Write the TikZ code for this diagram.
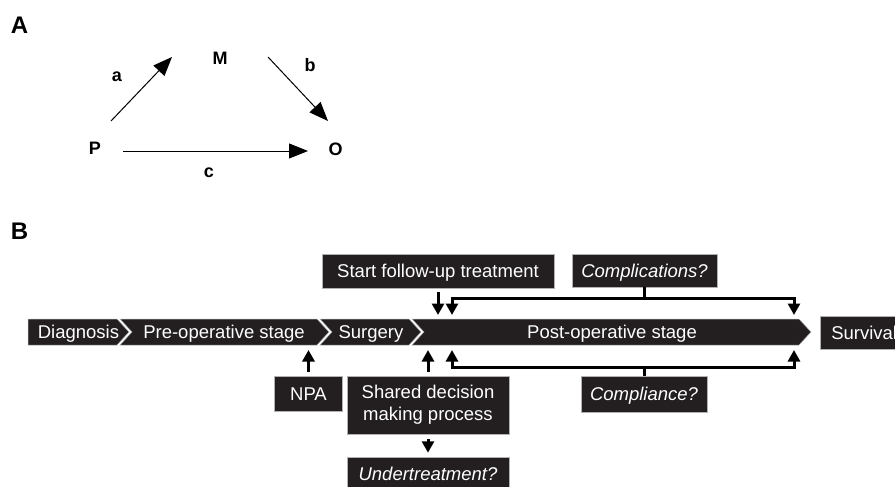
\documentclass[tikz,border=0pt]{standalone}
\usepackage{fontspec}
\setmainfont{Liberation Sans}
\usetikzlibrary{arrows.meta}
\definecolor{boxfill}{HTML}{231F20}
\begin{document}
\begin{tikzpicture}[x=1pt,y=-1pt,
  seg/.style={fill=boxfill, draw=gray!60, line width=0.5pt},
  box/.style={fill=boxfill, draw=gray!60, line width=0.5pt, text=white,
    font=\fontsize{18.5}{22}\selectfont, inner sep=0pt, text height=16pt, text depth=3pt},
  segtext/.style={text=white, font=\fontsize{18.5}{22}\selectfont, inner sep=0pt, anchor=base},
  barrow/.style={line width=3pt, -{Triangle[length=11.5pt,width=12pt]}},
  bline/.style={line width=3pt},
  bboth/.style={line width=3pt, line join=miter, {Triangle[length=11.5pt,width=12pt]}-{Triangle[length=11.5pt,width=12pt]}},
  aarrow/.style={line width=1pt, -{Triangle[length=19pt,width=15pt]}},
  panel/.style={font=\fontsize{24}{28}\selectfont\bfseries, inner sep=0pt},
  var/.style={font=\fontsize{18}{20}\selectfont\bfseries, inner sep=0pt}
]
\useasboundingbox (0,0) rectangle (895,487);
\clip (0,0) rectangle (895,487);

% ---------- Panel A ----------
\node[panel] (lblA) at (19.5,25) {A};
\node[var] (M) at (220,58) {M};
\node[var] (P) at (95,148.5) {P};
\node[var] (O) at (335.5,149) {O};
\node[var] (la) at (117,76.5) {a};
\node[var] (lb) at (310,65) {b};
\node[var] (lc) at (209,172.5) {c};
\coordinate (a1) at (111,121);
\coordinate (a2) at (172,57);
\coordinate (b1) at (268,57);
\coordinate (b2) at (328,121);
\coordinate (c1) at (123,151);
\coordinate (c2) at (308,151);
\draw[aarrow] (a1) -- (a2);
\draw[aarrow] (b1) -- (b2);
\draw[aarrow] (c1) -- (c2);

% ---------- Panel B ----------
\node[panel] (lblB) at (19.5,231.5) {B};

% chevron band
\draw[seg] (28,319) -- (117,319) -- (129,332) -- (117,345) -- (28,345) -- cycle;
\draw[seg] (120,319) -- (317,319) -- (329,332) -- (317,345) -- (120,345) -- (132,332) -- cycle;
\draw[seg] (320,319) -- (409,319) -- (421,332) -- (409,345) -- (320,345) -- (332,332) -- cycle;
\draw[seg] (412,319) -- (799,319) -- (811,332) -- (799,345) -- (412,345) -- (424,332) -- cycle;
\node[segtext] (tdiag) at (78.5,338) {Diagnosis};
\node[segtext] (tpre) at (224,338) {Pre-operative stage};
\node[segtext] (tsurg) at (371,338) {Surgery};
\node[segtext] (tpost) at (612,338) {Post-operative stage};
\node[box, anchor=west, minimum height=33pt, inner xsep=11pt] (surv) at (820,332.5) {Survival};

% boxes
\node[box, minimum width=232pt, minimum height=34pt] (start) at (438,271) {Start follow-up treatment};
\node[box, minimum width=145pt, minimum height=33pt, font=\fontsize{18.5}{22}\selectfont\itshape] (compl) at (644.5,270.5) {Complications?};
\node[box, minimum width=68pt, minimum height=35pt] (npa) at (308.5,393.5) {NPA};
\node[fill=boxfill, draw=gray!60, line width=0.5pt, text=white, inner sep=0pt,
  font=\fontsize{18.5}{22}\selectfont, align=center, minimum width=162pt, minimum height=58pt] (shared) at (428,405) {Shared decision\\making process};
\node[box, minimum width=126pt, minimum height=36pt, font=\fontsize{18.5}{22}\selectfont\itshape] (compli) at (644,394) {Compliance?};
\node[box, minimum width=162pt, minimum height=33pt, font=\fontsize{18.5}{22}\selectfont\itshape] (under) at (428,473.5) {Undertreatment?};

% arrows
\coordinate (tipTop) at (0,315);
\coordinate (tipBot) at (0,350);
\coordinate (cl) at (452,298);
\coordinate (cr) at (794,298);
\coordinate (ml) at (452,367);
\coordinate (mr) at (794,367);

\draw[barrow] ([yshift=-4pt]start.south) -- (start.south |- tipTop);
\draw[bline] (compl.south) -- (compl.south |- cl);
\draw[bboth] (cl |- tipTop) -- (cl) -- (cr) -- (cr |- tipTop);
\draw[bline] (compli.north) -- (compli.north |- ml);
\draw[bboth] (ml |- tipBot) -- (ml) -- (mr) -- (mr |- tipBot);
\draw[barrow] ([yshift=4pt]npa.north) -- (npa.north |- tipBot);
\draw[barrow] ([yshift=4pt]shared.north) -- (shared.north |- tipBot);
\draw[barrow] ([yshift=-5pt]shared.south) -- ([yshift=4pt]under.north);
\end{tikzpicture}
\end{document}
